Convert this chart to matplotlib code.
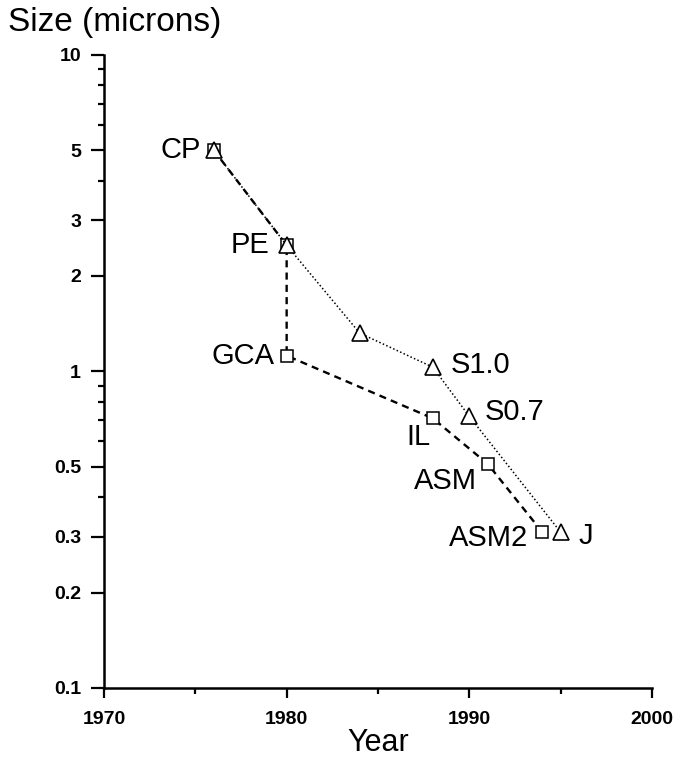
import numpy as np
import matplotlib.pyplot as plt
from matplotlib.ticker import FixedLocator, NullFormatter

plt.rcParams['font.family'] = ['Liberation Sans', 'DejaVu Sans']

# triangle series (dotted)
tri_year = [1976, 1980, 1984, 1988, 1990, 1995]
tri_size = [5.0, 2.5, 1.32, 1.03, 0.72, 0.31]

# square series (dashed)
sq_year = [1976, 1980, 1980, 1988, 1991, 1994]
sq_size = [5.0, 2.5, 1.12, 0.71, 0.51, 0.31]

# labels: (text, x, y, dx px, dy px, ha)
labels = [
    ('CP', 1976, 5.0, -13, 0, 'right'),
    ('PE', 1980, 2.5, -17, 0, 'right'),
    ('GCA', 1980, 1.12, -12, 0, 'right'),
    ('S1.0', 1988, 1.03, 18, 2, 'left'),
    ('S0.7', 1990, 0.72, 15, 4, 'left'),
    ('IL', 1988, 0.71, -2, -19, 'right'),
    ('ASM', 1991, 0.51, -11, -17, 'right'),
    ('ASM2', 1994, 0.31, -14, -6, 'right'),
    ('J', 1995, 0.31, 18, -4, 'left'),
]

yticks = [0.1, 0.2, 0.3, 0.5, 1, 2, 3, 5, 10]
yticklabels = ['0.1', '0.2', '0.3', '0.5', '1', '2', '3', '5', '10']
yminor = [0.4, 0.6, 0.7, 0.8, 0.9, 4, 6, 7, 8, 9]
xticks = [1970, 1980, 1990, 2000]

fig = plt.figure(figsize=(6.75, 7.6), dpi=100)
ax = fig.add_axes([0.154, 0.095, 0.812, 0.833])

ax.plot(sq_year, sq_size, color='black', linestyle=(0, (3, 2.2)), linewidth=1.7,
        marker='s', markersize=8, markerfacecolor='white', markeredgecolor='black',
        markeredgewidth=1.1)
ax.plot(tri_year, tri_size, color='black', linestyle=(0, (1, 1.5)), linewidth=1.1,
        marker='^', markersize=11, markerfacecolor='white', markeredgecolor='black',
        markeredgewidth=1.2)

for txt, x, y, dx, dy, ha in labels:
    ax.annotate(txt, (x, y), xytext=(dx * 0.72, dy * 0.72), textcoords='offset points',
                ha=ha, va='center', fontsize=21)

ax.set_yscale('log')
ax.set_ylim(0.1, 10)
ax.set_xlim(1970, 2000)

ax.yaxis.set_major_locator(FixedLocator(yticks))
ax.set_yticklabels(yticklabels)
ax.yaxis.set_minor_locator(FixedLocator(yminor))
ax.yaxis.set_minor_formatter(NullFormatter())
ax.set_xticks(xticks)
ax.set_xticks([1975, 1985, 1995], minor=True)

ax.tick_params(axis='y', which='major', direction='out', length=9.5, width=1.6,
               labelsize=14, pad=7)
ax.tick_params(axis='y', which='minor', direction='out', length=4.5, width=1.6)
ax.tick_params(axis='x', which='major', direction='out', length=7.5, width=1.6,
               labelsize=14, pad=9)
ax.tick_params(axis='x', which='minor', direction='out', length=4, width=1.6)
for lab in ax.get_xticklabels() + ax.get_yticklabels():
    lab.set_fontweight('bold')

for s in ['top', 'right']:
    ax.spines[s].set_visible(False)
for s in ['left', 'bottom']:
    ax.spines[s].set_linewidth(1.8)

fig.text(0.012, 0.971, 'Size (microns)', fontsize=24, ha='left', va='center')
ax.set_xlabel('Year', fontsize=22, labelpad=0)

fig.savefig('out.png', dpi=100)
